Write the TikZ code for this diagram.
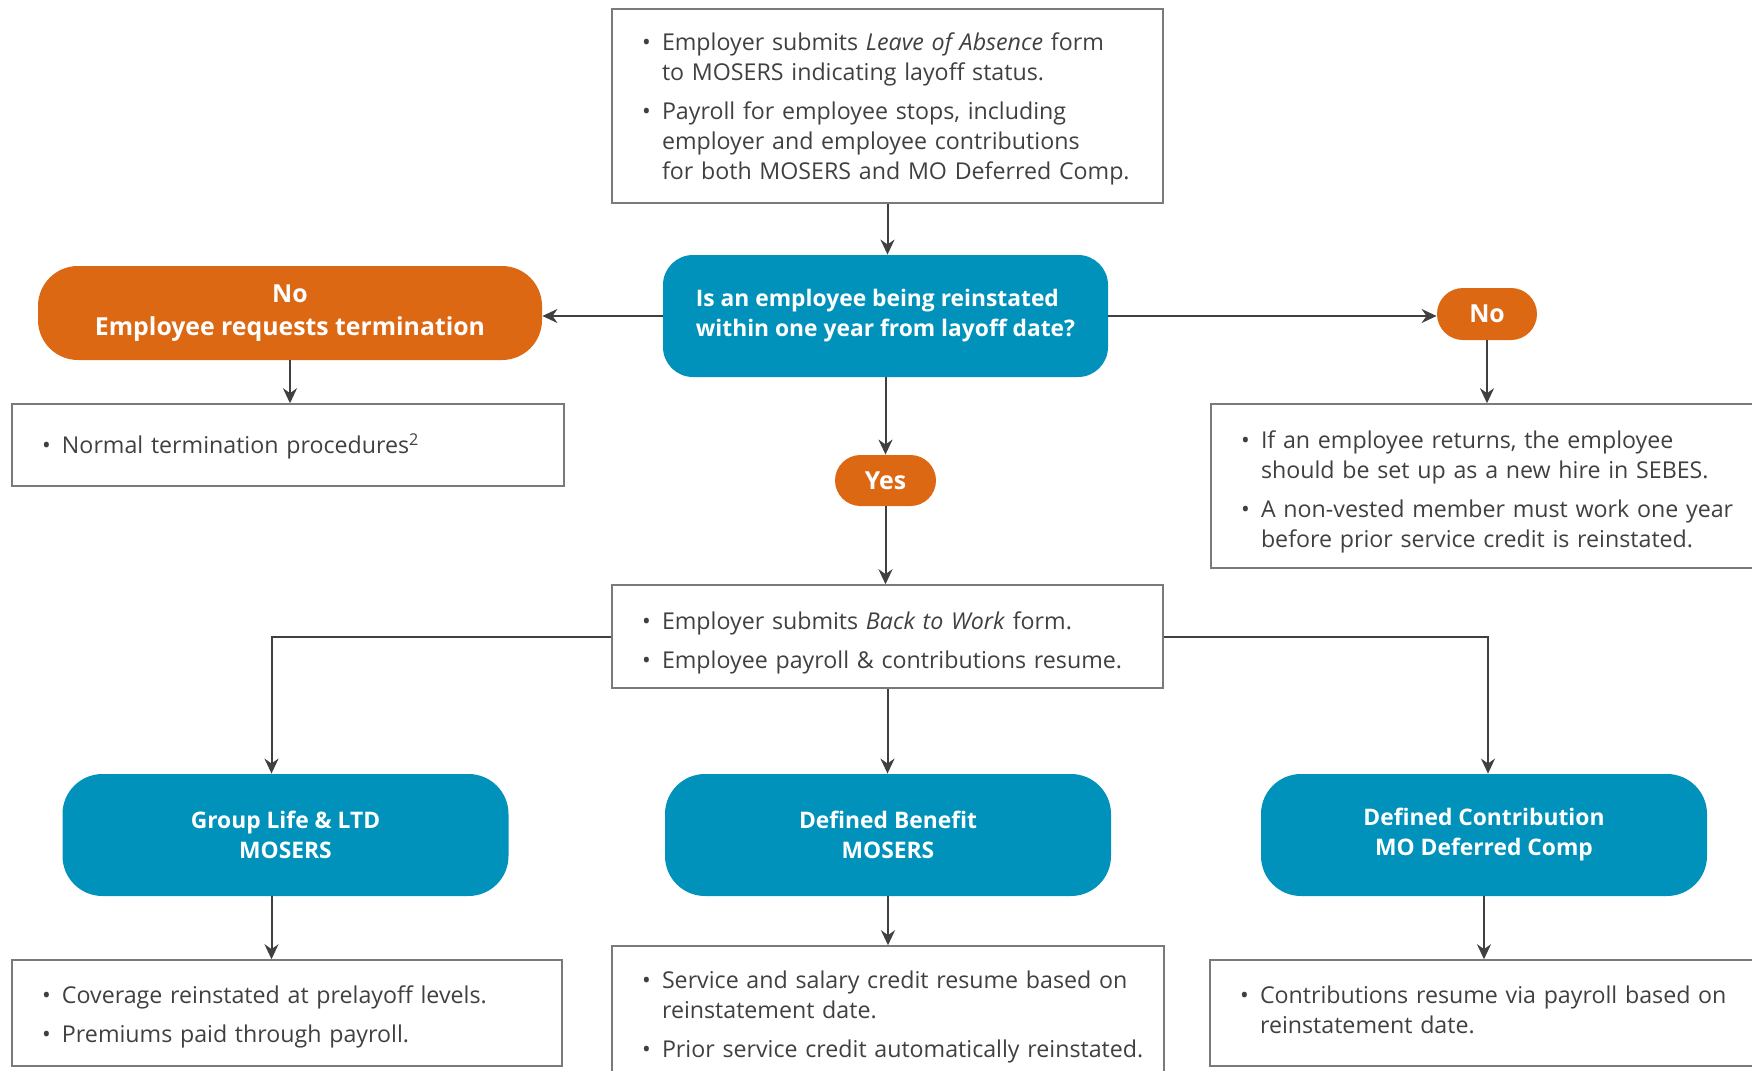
\documentclass[tikz,border=0pt]{standalone}
\usepackage{fontspec}
\setmainfont{Open Sans}
\usepackage{tikz}
\usetikzlibrary{arrows.meta}

\definecolor{moblue}{HTML}{0092BB}
\definecolor{moorange}{HTML}{DD6814}
\definecolor{txtgray}{HTML}{404040}
\definecolor{linegray}{HTML}{7A7A7A}

\newcommand{\bitem}[1]{\par\noindent\leftskip=15pt\hangindent=10pt\hangafter=1\makebox[10pt][l]{\textbullet}#1\par}
\newcommand{\lift}[1]{\par\vspace*{#1}}

\begin{document}
\begin{tikzpicture}[
		x=0.5pt, y=-0.5pt,
		every node/.style={font=\fontsize{11.6}{15}\selectfont, text=txtgray},
		textbox/.style={rectangle, draw=linegray, line width=0.75pt, inner xsep=0pt, inner ysep=0pt, align=left},
		bluebox/.style={fill=moblue, rounded corners=20pt, text=white, font=\bfseries\fontsize{11.4}{15}\selectfont, align=center, minimum width=223pt, minimum height=61pt},
		orangebox/.style={fill=moorange, text=white, font=\bfseries\fontsize{12.4}{16.5}\selectfont, align=center},
		arr/.style={-{Stealth[length=7.5pt, width=7pt]}, line width=1pt, draw=txtgray}
	]
  \path [use as bounding box] (0, 0) rectangle (1752, 1071);
  \clip (0, 0) rectangle (1752, 1071);
  \node (leave) [textbox, text width=275.5pt, minimum height=97pt] at (887.5, 106) {%
    \bitem{Employer submits \textit{Leave of Absence} form\newline to MOSERS indicating layoff status.}\vspace{4.5pt}%
    \bitem{Payroll for employee stops, including\newline employer and employee contributions\newline for both MOSERS and MO Deferred Comp.}\lift{3pt}};
  \node (quest) [bluebox, rounded corners=15pt, minimum width=222.5pt, align=left] at (885.5, 316) {Is an employee being reinstated\\within one year from layoff date?};
  \node (noterm) [orangebox, rounded corners=20pt, minimum width=252pt, minimum height=47pt] at (290, 313) {No\\Employee requests termination};
  \node (normal) [textbox, text width=276pt, minimum height=41pt] at (288, 445) {\bitem{Normal termination procedures\textsuperscript{2}}\lift{3.5pt}};
  \node (nonew) [orangebox, rounded corners=13pt, minimum width=50pt, minimum height=26pt] at (1487, 314) {No};
  \node (newhire) [textbox, text width=274.5pt, minimum height=82pt] at (1485.5, 486) {%
    \bitem{If an employee returns, the employee\newline should be set up as a new hire in SEBES.}\vspace{4.5pt}%
    \bitem{A non-vested member must work one year\newline before prior service credit is reinstated.}};
  \node (yes) [orangebox, rounded corners=12.75pt, minimum width=50.5pt, minimum height=25.5pt] at (885.5, 480.5) {Yes};
  \node (backwork) [textbox, text width=275.5pt, minimum height=51.5pt] at (887.5, 636.5) {%
    \bitem{Employer submits \textit{Back to Work} form.}\vspace{4.5pt}%
    \bitem{Employee payroll \& contributions resume.}};
  \node (life) [bluebox] at (285.5, 835) {Group Life \& LTD\\MOSERS};
  \node (benefit) [bluebox] at (888, 835) {Defined Benefit\\MOSERS};
  \node (contrib) [bluebox] at (1484, 835) {Defined Contribution\\MO Deferred Comp};
  \node (coverage) [textbox, text width=275pt, minimum height=53pt] at (287, 1013) {%
    \bitem{Coverage reinstated at prelayoff levels.}\vspace{4.5pt}%
    \bitem{Premiums paid through payroll.}\lift{2.5pt}};
  \node (service) [textbox, text width=276pt, minimum height=69.5pt] at (888, 1015.5) {%
    \bitem{Service and salary credit resume based on\newline reinstatement date.}\vspace{4.5pt}%
    \bitem{Prior service credit automatically reinstated.}\lift{4.5pt}};
  \node (resume) [textbox, text width=275pt, minimum height=53pt] at (1485, 1013) {%
    \bitem{Contributions resume via payroll based on\newline reinstatement date.}\lift{9pt}};
  \draw [arr] (leave.south) -- (leave.south |- quest.north);
  \draw [arr] (quest.west) -- (quest.west -| noterm.east);
  \draw [arr] (quest.east) -- (quest.east -| nonew.west);
  \draw [arr] (noterm.south) -- (noterm.south |- normal.north);
  \draw [arr] (nonew.south) -- (nonew.south |- newhire.north);
  \draw [arr] (quest.south) -- (quest.south |- yes.north);
  \draw [arr] (yes.south) -- (yes.south |- backwork.north);
  \draw [arr] (backwork.west) -| ([xshift=-7pt]life.north);
  \draw [arr] (backwork.south) -- (backwork.south |- benefit.north);
  \draw [arr] (backwork.east) -| ([xshift=2pt]contrib.north);
  \draw [arr] ([xshift=-7pt]life.south) -- ([xshift=-7pt]life.south |- coverage.north);
  \draw [arr] (benefit.south) -- (benefit.south |- service.north);
  \draw [arr] (contrib.south) -- (contrib.south |- resume.north);
\end{tikzpicture}
\end{document}
